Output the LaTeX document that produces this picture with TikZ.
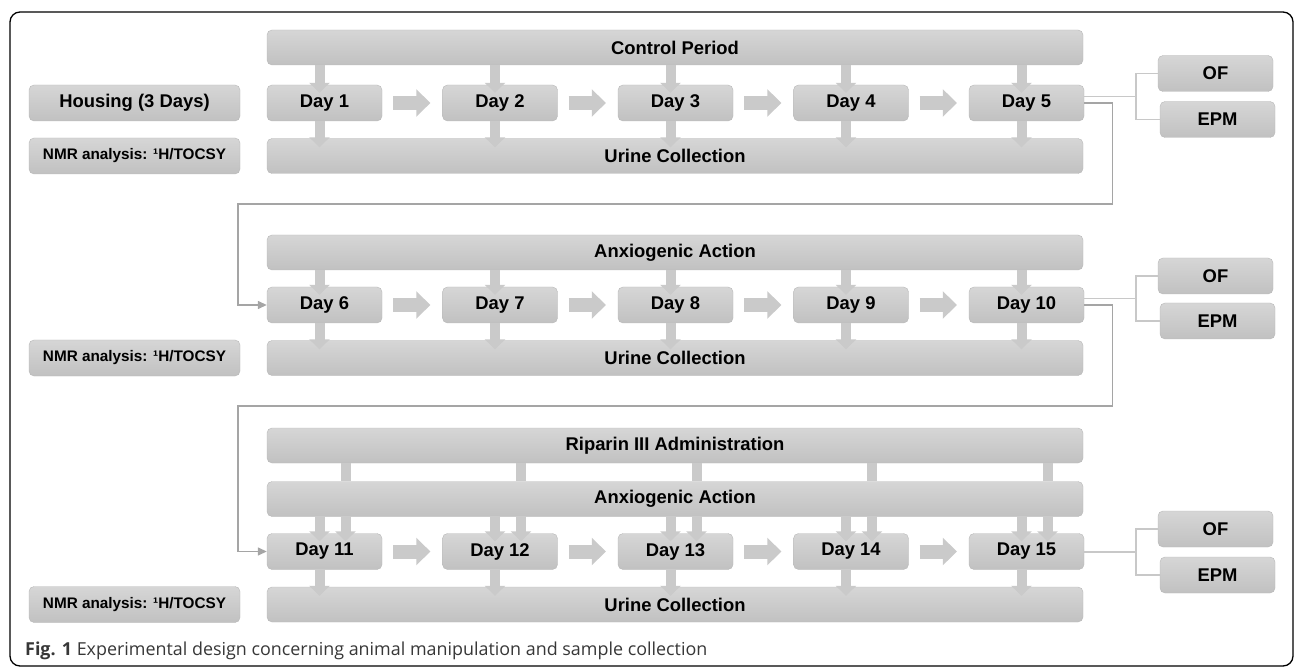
\documentclass[tikz,border=0pt]{standalone}
\usepackage{fontspec}
\setmainfont{Liberation Sans}
\newfontfamily\capfont{Open Sans}
\usepackage{xcolor}
\usetikzlibrary{arrows.meta,calc}

\definecolor{boxtop}{RGB}{214,214,214}
\definecolor{boxbot}{RGB}{193,193,193}
\definecolor{boxline}{RGB}{184,184,184}
\definecolor{arrgray}{RGB}{202,202,202}
\definecolor{linkgray}{RGB}{200,200,200}
\definecolor{loopgray}{RGB}{165,165,165}
\definecolor{capgray}{RGB}{55,55,55}

\tikzset{
  box/.style={draw=boxline, rounded corners=5pt, top color=boxtop, bottom color=boxbot,
    inner sep=0pt, minimum height=36pt, font=\bfseries\fontsize{18.4}{20}\selectfont},
  daybox/.style={box, minimum width=115pt},
  barbox/.style={box, minimum width=816pt, minimum height=35pt},
  sidebox/.style={box, minimum width=211pt},
  downarr/.style={draw=arrgray, line width=10pt, -{Triangle[length=10pt,width=20pt]}},
  rightarr/.style={draw=arrgray, line width=14pt, -{Triangle[length=14pt,width=27pt]},
    shorten <=11pt, shorten >=12pt},
  shaft/.style={draw=arrgray, line width=10pt},
  link/.style={draw=linkgray, line width=1.2pt},
  returnline/.style={draw=loopgray, line width=1.4pt, -{Triangle[length=9pt,width=8pt]}},
}

\begin{document}
\begin{tikzpicture}[x=1pt,y=-1pt]
\useasboundingbox (0,0) rectangle (1296,668);
\draw[line width=1.3pt, rounded corners=10pt] (10,12) rectangle (1293,666);

% left column
\node[sidebox] (house) at (134.5,103) {Housing (3 Days)};
\node[sidebox, font=\bfseries\fontsize{15.3}{17}\selectfont] (nmr1) at (134.5,156) {NMR analysis: ¹H/TOCSY};
\node[sidebox, font=\bfseries\fontsize{15.3}{17}\selectfont] (nmr2) at (134.5,358) {NMR analysis: ¹H/TOCSY};
\node[sidebox, font=\bfseries\fontsize{15.3}{17}\selectfont] (nmr3) at (134.5,604.5) {NMR analysis: ¹H/TOCSY};

% long bars
\node[barbox] (cp) at (675,47.5) {Control Period};
\node[barbox] (u1) at (675,156) {Urine Collection};
\node[barbox] (aa1) at (675,252.5) {Anxiogenic Action};
\node[barbox] (u2) at (675,358) {Urine Collection};
\node[barbox] (rip) at (675,445.5) {Riparin III Administration};
\node[barbox] (aa2) at (675,499) {Anxiogenic Action};
\node[barbox] (u3) at (675,604.5) {Urine Collection};

% days
\foreach \r/\y in {0/103,1/305,2/551.5} {
  \foreach \k/\x in {1/324.5,2/500,3/675.5,4/851,5/1026.5} {
    \pgfmathtruncatemacro\n{5*\r+\k}
    \node[daybox] (d\n) at (\x,\y) {Day \n};
  }
}

% tests
\node[daybox] (of1) at (1215.5,73.5) {OF};
\node[daybox] (epm1) at (1217.5,119.5) {EPM};
\node[daybox] (of2) at (1215.5,276) {OF};
\node[daybox] (epm2) at (1217.5,321) {EPM};
\node[daybox] (of3) at (1215.5,529) {OF};
\node[daybox] (epm3) at (1217.5,575) {EPM};

% down arrows
\foreach \r/\tp/\bt in {0/cp/u1,1/aa1/u2,2/aa2/u3} {
  \foreach \k in {1,...,5} {
    \pgfmathtruncatemacro\n{5*\r+\k}
    \draw[downarr] ($(d\n.north |- \tp.south)+(-5,0)$) -- ($(d\n.north)+(-5,8)$);
    \draw[downarr] ($(d\n.south)+(-5,0)$) -- ($(d\n.south |- \bt.north)+(-5,9)$);
  }
}
\foreach \n in {11,...,15} {
  \draw[shaft] ($(d\n.north |- rip.south)+(21,0)$) -- ($(d\n.north |- aa2.north)+(21,0)$);
  \draw[downarr] ($(d\n.north |- aa2.south)+(21,0)$) -- ($(d\n.north)+(21,8)$);
}

% day to day
\foreach \a in {1,2,3,4,6,7,8,9,11,12,13,14} {
  \pgfmathtruncatemacro\b{\a+1}
  \draw[rightarr] (d\a) -- (d\b);
}

% OF / EPM links
\coordinate (j1) at (1136,96.5);
\coordinate (j2) at (1136,298.5);
\coordinate (j3) at (1136,552);
\draw[link] (d5.east |- j1) -- (j1);
\draw[link] (of1.west) -| (j1) |- (epm1.west);
\draw[link] (d10.east |- j2) -- (j2);
\draw[link] (of2.west) -| (j2) |- (epm2.west);
\draw[link] (d15.east |- j3) -- (j3);
\draw[link] (of3.west) -| (j3) |- (epm3.west);

% back to next row
\coordinate (r1) at (238,204);
\coordinate (r2) at (238,406);
\draw[returnline] (d5.east) -- ++(28,0) |- (r1) |- (d6.west);
\draw[returnline] (d10.east) -- ++(28,0) |- (r2) |- (d11.west);

\node[anchor=base west, inner sep=0pt, text=capgray, font=\capfont\fontsize{17.9}{20}\selectfont] (cap) at (25,655)
  {\textbf{Fig. 1} Experimental design concerning animal manipulation and sample collection};
\end{tikzpicture}
\end{document}
